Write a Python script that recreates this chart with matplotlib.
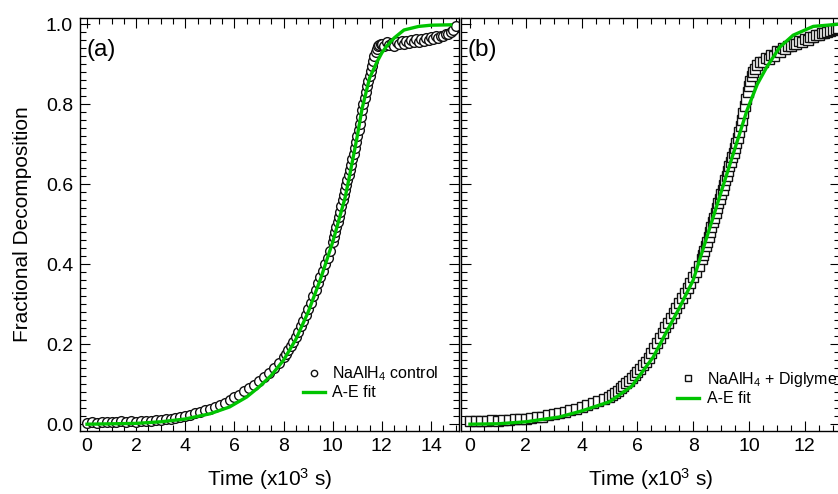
import matplotlib
matplotlib.use("Agg")
import matplotlib.pyplot as plt
from matplotlib.ticker import MultipleLocator

plt.rcParams["font.family"] = ["Liberation Sans", "DejaVu Sans"]
plt.rcParams["mathtext.default"] = "regular"

# --- (a) NaAlH4 control: measured points (time in 1e3 s, fraction) ---
control_t = [
    0.0, 0.2, 0.4, 0.6, 0.8, 1.0, 1.2, 1.4, 1.6, 1.8, 2.0, 2.2, 2.4, 2.6, 2.8,
    3.0, 3.2, 3.4, 3.6, 3.8, 4.0, 4.2, 4.4, 4.6, 4.8, 5.0, 5.2, 5.4, 5.6, 5.8,
    6.0, 6.2, 6.4, 6.6, 6.8, 7.0, 7.2, 7.4, 7.6, 7.8,
    8.0, 8.1, 8.2, 8.3, 8.4, 8.5, 8.6, 8.7, 8.8, 8.9, 9.0, 9.1, 9.2, 9.3, 9.4,
    9.5, 9.6, 9.7, 9.8, 9.9,
    10.0, 10.05, 10.1, 10.15, 10.2, 10.25, 10.3, 10.35, 10.4, 10.45, 10.5,
    10.55, 10.6, 10.65, 10.7, 10.75, 10.8, 10.85, 10.9, 10.95, 11.0, 11.05,
    11.1, 11.15, 11.2, 11.25, 11.3, 11.35, 11.4, 11.45, 11.5, 11.55, 11.6,
    11.65, 11.7, 11.75, 11.8, 11.85, 11.9, 11.95, 12.0,
    12.1, 12.2, 12.3, 12.4, 12.5, 12.6, 12.7, 12.8, 12.9, 13.0, 13.1, 13.2,
    13.3, 13.4, 13.5, 13.6, 13.7, 13.8, 13.9, 14.0, 14.1, 14.2, 14.3, 14.4,
    14.5, 14.6, 14.7, 14.8, 14.9, 15.0,
]
control_y = [
    0.004, 0.005, 0.004, 0.006, 0.005, 0.006, 0.005, 0.007, 0.006, 0.007,
    0.006, 0.008, 0.007, 0.009, 0.010, 0.011, 0.013, 0.014, 0.016, 0.018,
    0.021, 0.024, 0.027, 0.031, 0.035, 0.039, 0.043, 0.048, 0.054, 0.060,
    0.067, 0.074, 0.082, 0.090, 0.099, 0.108, 0.118, 0.129, 0.141, 0.154,
    0.168, 0.176, 0.185, 0.195, 0.206, 0.218, 0.231, 0.245, 0.259, 0.274,
    0.289, 0.304, 0.320, 0.336, 0.352, 0.368, 0.384, 0.400, 0.416, 0.434,
    0.455, 0.467, 0.480, 0.492, 0.505, 0.517, 0.530, 0.545, 0.560, 0.572,
    0.585, 0.597, 0.610, 0.622, 0.635, 0.648, 0.662, 0.676, 0.690, 0.705,
    0.720, 0.735, 0.751, 0.768, 0.785, 0.800, 0.815, 0.830, 0.845, 0.858,
    0.870, 0.883, 0.895, 0.908, 0.920, 0.930, 0.938, 0.944, 0.948, 0.950,
    0.951,
    0.945, 0.956, 0.948, 0.953, 0.944, 0.955, 0.949, 0.957, 0.950, 0.958,
    0.952, 0.960, 0.954, 0.962, 0.956, 0.963, 0.958, 0.965, 0.961, 0.967,
    0.963, 0.969, 0.966, 0.971, 0.970, 0.974, 0.975, 0.979, 0.984, 0.996,
]
control_fit_t = [0.0, 1.0, 2.0, 3.0, 4.0, 5.0, 5.8, 6.5, 7.0, 7.5, 8.0, 8.5,
                 9.0, 9.5, 10.0, 10.5, 10.7, 11.0, 11.2, 11.5, 11.8, 12.0,
                 12.2, 12.5, 12.9, 13.5, 14.0, 14.8]
control_fit_y = [0.000, 0.001, 0.002, 0.006, 0.013, 0.026, 0.043, 0.068,
                 0.093, 0.122, 0.160, 0.212, 0.280, 0.362, 0.455, 0.565,
                 0.625, 0.720, 0.790, 0.865, 0.905, 0.928, 0.945, 0.965,
                 0.985, 0.994, 0.997, 0.998]

# --- (b) NaAlH4 + Diglyme ---
diglyme_t = [
    0.0, 0.2, 0.4, 0.6, 0.8, 1.0, 1.2, 1.4, 1.6, 1.8, 2.0, 2.2, 2.4, 2.6, 2.8,
    3.0, 3.2, 3.4, 3.6, 3.8, 4.0, 4.2, 4.4, 4.6, 4.8,
    5.0, 5.1, 5.2, 5.3, 5.4, 5.5, 5.6, 5.7, 5.8, 5.9, 6.0, 6.1, 6.2, 6.3, 6.4,
    6.5, 6.6, 6.7, 6.8, 6.9, 7.0, 7.1, 7.2, 7.3, 7.4, 7.5, 7.6, 7.7, 7.8, 7.9,
    8.0, 8.1, 8.2,
    8.3, 8.35, 8.4, 8.45, 8.5, 8.55, 8.6, 8.65, 8.7, 8.75, 8.8, 8.85, 8.9,
    8.95, 9.0, 9.05, 9.1, 9.15, 9.2, 9.25, 9.3, 9.35, 9.4, 9.45, 9.5, 9.55,
    9.6, 9.65, 9.7, 9.75, 9.8, 9.85, 9.9, 9.95, 10.0, 10.05, 10.1, 10.15,
    10.2, 10.3, 10.4,
    10.5, 10.6, 10.7, 10.8, 10.9, 11.0, 11.1, 11.2, 11.3, 11.4, 11.5, 11.6,
    11.7, 11.8, 11.9, 12.0, 12.1, 12.2, 12.3, 12.4, 12.5, 12.6, 12.7, 12.8,
    12.9, 13.0, 13.1, 13.2,
]
diglyme_y = [
    0.008, 0.007, 0.009, 0.008, 0.010, 0.009, 0.011, 0.010, 0.012, 0.013,
    0.014, 0.016, 0.017, 0.019, 0.022, 0.025, 0.028, 0.031, 0.035, 0.039,
    0.043, 0.048, 0.053, 0.058, 0.063,
    0.068, 0.073, 0.078, 0.084, 0.090, 0.096, 0.102, 0.109, 0.116, 0.123,
    0.131, 0.139, 0.147, 0.156, 0.166, 0.177, 0.190, 0.203, 0.216, 0.229,
    0.242, 0.254, 0.266, 0.278, 0.290, 0.302, 0.315, 0.328, 0.341, 0.354,
    0.367, 0.381, 0.395,
    0.412, 0.423, 0.434, 0.445, 0.456, 0.468, 0.480, 0.492, 0.504, 0.516,
    0.528, 0.540, 0.552, 0.563, 0.575, 0.586, 0.598, 0.610, 0.621, 0.632,
    0.644, 0.655, 0.667, 0.678, 0.690, 0.702, 0.715, 0.730, 0.745, 0.761,
    0.778, 0.795, 0.812, 0.829, 0.845, 0.858, 0.870, 0.879, 0.887, 0.898,
    0.905,
    0.906, 0.914, 0.912, 0.922, 0.920, 0.932, 0.929, 0.939, 0.937, 0.946,
    0.944, 0.951, 0.950, 0.957, 0.955, 0.962, 0.961, 0.968, 0.967, 0.972,
    0.972, 0.977, 0.977, 0.981, 0.982, 0.985, 0.987, 0.990,
]
diglyme_fit_t = [0.0, 1.0, 2.0, 3.2, 4.0, 5.0, 5.8, 6.57, 7.0, 7.5, 8.0,
                 8.5, 9.0, 9.5, 9.93, 10.3, 10.64, 11.1, 11.58, 12.3, 13.3]
diglyme_fit_y = [0.000, 0.001, 0.006, 0.018, 0.033, 0.056, 0.095, 0.168,
                 0.225, 0.290, 0.360, 0.470, 0.580, 0.690, 0.785, 0.850,
                 0.893, 0.942, 0.972, 0.994, 1.000]

FIT_GREEN = "#00c400"
W, H = 838, 494


def style_axes(ax):
    ax.xaxis.set_major_locator(MultipleLocator(2))
    ax.xaxis.set_minor_locator(MultipleLocator(0.5))
    ax.yaxis.set_major_locator(MultipleLocator(0.2))
    ax.yaxis.set_minor_locator(MultipleLocator(0.02))
    ax.yaxis.set_major_formatter("{x:.1f}")
    ax.tick_params(which="both", direction="in", top=True, right=True,
                   width=0.8, labelsize=14, pad=5)
    ax.tick_params(which="major", length=7)
    ax.tick_params(which="minor", length=4)
    for spine in ax.spines.values():
        spine.set_linewidth(1.0)
    ax.set_ylim(-0.017, 1.015)
    ax.set_xlabel("Time (x10$^3$ s)", fontsize=15, labelpad=8)


def draw_panel(ax, t, y, fit_t, fit_y, marker, label, tag):
    ax.plot(t, y, marker, ls="none", ms=7, mfc="white", mec="#111111",
            mew=1.0, label=label)
    ax.plot(fit_t, fit_y, color=FIT_GREEN, lw=2.4, label="A-E fit")
    ax.text(0.016, 0.922, tag, transform=ax.transAxes, fontsize=17.5,
            ha="left", va="center")


fig = plt.figure(figsize=(W / 100, H / 100), dpi=100)
ax1 = fig.add_axes([80 / W, 63 / H, 379 / W, 413 / H])
ax2 = fig.add_axes([461 / W, 63 / H, 379 / W, 413 / H])

draw_panel(ax1, control_t, control_y, control_fit_t, control_fit_y,
           "o", "NaAlH$_4$ control", "(a)")
draw_panel(ax2, diglyme_t, diglyme_y, diglyme_fit_t, diglyme_fit_y,
           "s", "NaAlH$_4$ + Diglyme", "(b)")

for ax in (ax1, ax2):
    style_axes(ax)
ax1.set_xlim(-0.285, 15.14)
ax2.set_xlim(-0.32, 13.26)
ax2.tick_params(labelleft=False)
ax1.set_ylabel("Fractional Decomposition", fontsize=15, labelpad=10)

legend_kw = dict(loc="upper left", frameon=False, borderpad=0,
                 borderaxespad=0, handlelength=1.4, handletextpad=0.45,
                 labelspacing=0.15, markerscale=0.65, fontsize=11.5)
ax1.legend(bbox_to_anchor=(0.588, 0.162), **legend_kw)
ax2.legend(bbox_to_anchor=(0.570, 0.148), **legend_kw)

fig.savefig("out.png", dpi=100)
